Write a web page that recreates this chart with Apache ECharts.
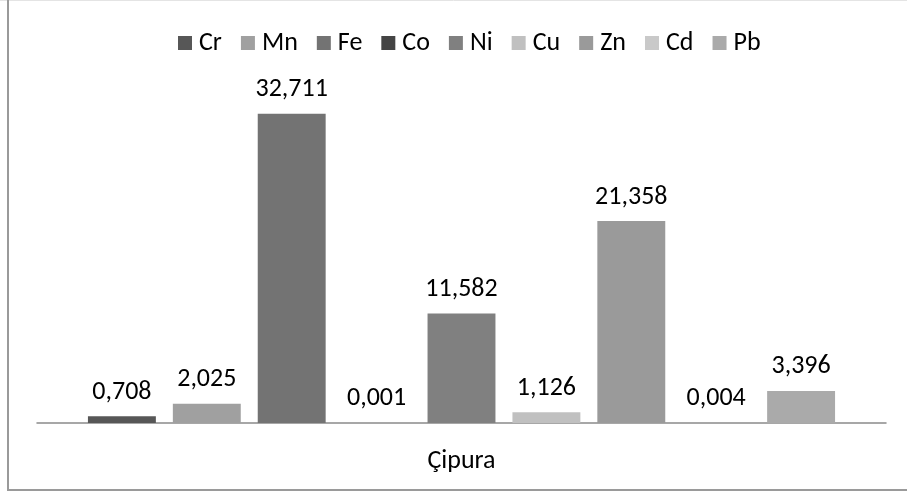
<!DOCTYPE html>
<html>
<head>
<meta charset="utf-8">
<script src="https://cdn.jsdelivr.net/npm/echarts@6/dist/echarts.min.js"></script>
<style>
  html, body { margin: 0; padding: 0; background: #fff; }
  #chart { position: absolute; left: 0; top: 0; width: 907px; height: 492px; }
</style>
</head>
<body>
<div id="chart"></div>
<script>
// Metal concentrations measured in the sample
const categories = ['Çipura'];
const metals = ['Cr', 'Mn', 'Fe', 'Co', 'Ni', 'Cu', 'Zn', 'Cd', 'Pb'];
const values = [0.708, 2.025, 32.711, 0.001, 11.582, 1.126, 21.358, 0.004, 3.396];
const colors = ['#575757', '#a0a0a0', '#737373', '#444444', '#808080', '#c0c0c0', '#9a9a9a', '#c9c9c9', '#aaaaaa'];

const FONT = 'Carlito, Lato, "Open Sans", sans-serif';
const FS = 26;

const chart = echarts.init(document.getElementById('chart'), null, { renderer: 'canvas' });

const series = metals.map((name, i) => ({
  name: name,
  type: 'bar',
  data: [values[i]],
  barGap: '25%',
  barCategoryGap: '12%',
  itemStyle: { color: colors[i] },
  label: {
    show: true,
    position: 'top',
    distance: 11,
    color: '#000',
    fontFamily: FONT,
    fontSize: FS,
    formatter: p => p.value.toFixed(3).replace('.', ',')
  }
}));

chart.setOption({
  animation: false,
  backgroundColor: '#fff',
  graphic: [
    { type: 'line', shape: { x1: 0, y1: 0.5, x2: 907, y2: 0.5 }, style: { stroke: '#e4e4e4', lineWidth: 1 } },
    { type: 'line', shape: { x1: 8, y1: 0, x2: 8, y2: 490 }, style: { stroke: '#9a9a9a', lineWidth: 2 } },
    { type: 'line', shape: { x1: 7, y1: 490, x2: 907, y2: 490 }, style: { stroke: '#9a9a9a', lineWidth: 2 } }
  ],
  legend: {
    top: 25,
    left: 173,
    itemWidth: 14,
    itemHeight: 14,
    itemGap: 19,
    icon: 'rect',
    textStyle: { fontFamily: FONT, fontSize: FS, color: '#000', padding: [0, 0, 0, 2] },
    data: metals
  },
  grid: { left: 37, right: 21, top: 92, bottom: 69, containLabel: false },
  xAxis: {
    type: 'category',
    data: categories,
    axisLine: { lineStyle: { color: '#8a8a8a', width: 1.5 } },
    axisTick: { show: false },
    axisLabel: { fontFamily: FONT, fontSize: FS, color: '#000', margin: 25 }
  },
  yAxis: {
    type: 'value',
    min: 0,
    max: 35,
    show: false,
    splitLine: { show: false }
  },
  series: series
});
</script>
</body>
</html>
